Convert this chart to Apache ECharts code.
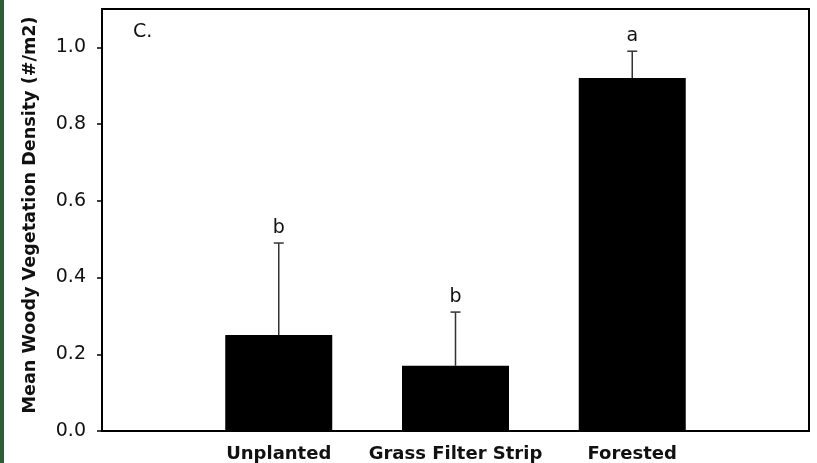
<!DOCTYPE html>
<html>
<head>
<meta charset="utf-8">
<script src="https://cdn.jsdelivr.net/npm/echarts@6/dist/echarts.min.js"></script>
<style>html,body{margin:0;padding:0;background:#fff;}#c{width:817px;height:463px;}</style>
</head>
<body>
<div id="c"></div>
<script>
var categories = ['Unplanted', 'Grass Filter Strip', 'Forested'];
var means = [0.25, 0.17, 0.92];
var errors = [0.24, 0.14, 0.07];
var letters = ['b', 'b', 'a'];
var yTicks = [0, 0.2, 0.4, 0.6, 0.8, 1.0];
var panelLabel = 'C.';
var yTitle = 'Mean Woody Vegetation Density (#/m2)';

var axisCats = [''].concat(categories).concat(['']);
var barData = ['-'].concat(means).concat(['-']);
var errData = categories.map(function (c, i) { return [i + 1, means[i], errors[i], letters[i]]; });

var chart = echarts.init(document.getElementById('c'));
chart.setOption({
  animation: false,
  backgroundColor: '#fff',
  textStyle: { fontFamily: 'DejaVu Sans' },
  grid: { left: 102, right: 8, top: 9, bottom: 31, show: true, borderColor: '#000', borderWidth: 2, backgroundColor: 'transparent' },
  graphic: [
    { type: 'rect', left: 0, top: 0, shape: { width: 4, height: 463 }, style: { fill: '#2f5e36' } },
    { type: 'text', left: 133, top: 23, style: { text: panelLabel, font: '19px "DejaVu Sans"', fill: '#111' } }
  ],
  xAxis: {
    type: 'category',
    data: axisCats,
    boundaryGap: false,
    axisLine: { show: true, lineStyle: { color: '#000', width: 2 } },
    axisTick: { show: false },
    axisLabel: { interval: 0, color: '#111', fontSize: 18, fontWeight: 'bold', fontFamily: 'DejaVu Sans', margin: 14 },
    splitLine: { show: false }
  },
  yAxis: {
    type: 'value',
    min: 0,
    max: 1.1,
    interval: 0.2,
    name: yTitle,
    nameLocation: 'middle',
    nameGap: 63,
    nameTextStyle: { fontSize: 17.6, fontWeight: 'bold', color: '#111', fontFamily: 'DejaVu Sans', padding: [0, 0, 0, 10] },
    axisLine: { show: true, lineStyle: { color: '#000', width: 2 } },
    axisTick: { show: true, length: 5, customValues: yTicks, lineStyle: { color: '#000', width: 1.5 } },
    axisLabel: { customValues: yTicks, color: '#111', fontSize: 19, fontFamily: 'DejaVu Sans', margin: 16, formatter: function (v) { return v.toFixed(1); } },
    splitLine: { show: false }
  },
  series: [
    {
      type: 'bar',
      data: barData,
      barWidth: 107,
      itemStyle: { color: '#000' },
      z: 2
    },
    {
      type: 'custom',
      data: errData,
      z: 3,
      renderItem: function (params, api) {
        var x = api.value(0), m = api.value(1), e = api.value(2);
        var base = api.coord([x, m]);
        var top = api.coord([x, m + e]);
        var cap = 5;
        return {
          type: 'group',
          children: [
            { type: 'line', shape: { x1: base[0], y1: base[1], x2: top[0], y2: top[1] }, style: { stroke: '#333', lineWidth: 1.5 } },
            { type: 'line', shape: { x1: top[0] - cap, y1: top[1], x2: top[0] + cap, y2: top[1] }, style: { stroke: '#333', lineWidth: 1.5 } },
            { type: 'text', x: top[0], y: top[1] - 15, style: { text: api.value(3), font: '19px "DejaVu Sans"', fill: '#111', align: 'center', verticalAlign: 'middle' } }
          ]
        };
      }
    }
  ]
});
</script>
</body>
</html>
